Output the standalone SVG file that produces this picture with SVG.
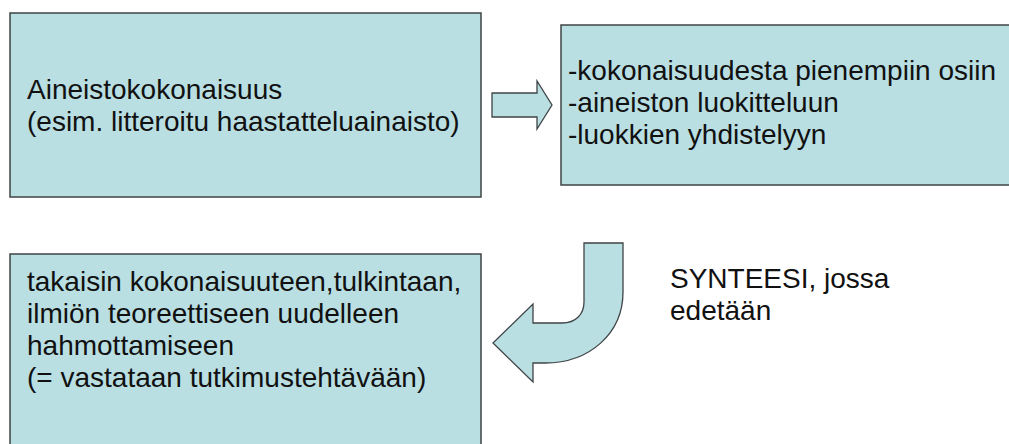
<svg xmlns="http://www.w3.org/2000/svg" width="1009" height="444" viewBox="0 0 1009 444">
<style>
.box{fill:#B9DFE3;stroke:#3F4446;stroke-width:1.5}
.arrow{fill:#B9DFE3;stroke:#3F4446;stroke-width:1.3;stroke-linejoin:miter}
.t{font-family:"Liberation Sans",Arial,sans-serif;font-size:28px;fill:#111}
</style>
<rect width="1009" height="444" fill="#fff"/>
<g id="node-aineisto">
<rect class="box" x="10" y="13" width="471" height="184"/>
<text class="t" x="27" y="99">Aineistokokonaisuus</text>
<text class="t" x="27" y="131">(esim. litteroitu haastatteluainaisto)</text>
</g>
<g id="node-osiin">
<rect class="box" x="561" y="25" width="460" height="160"/>
<text class="t" x="568" y="80">-kokonaisuudesta pienempiin osiin</text>
<text class="t" x="568" y="112">-aineiston luokitteluun</text>
<text class="t" x="568" y="144">-luokkien yhdistelyyn</text>
</g>
<g id="node-takaisin">
<rect class="box" x="10" y="254" width="471" height="200"/>
<text class="t" x="27" y="291">takaisin kokonaisuuteen,tulkintaan,</text>
<text class="t" x="27" y="323">ilmiön teoreettiseen uudelleen</text>
<text class="t" x="27" y="355">hahmottamiseen</text>
<text class="t" x="27" y="387">(= vastataan tutkimustehtävään)</text>
</g>
<g id="connectors">
<path class="arrow" d="M492,93 L537,93 L537,81 L552,105 L537,129 L537,117 L492,117 Z"/>
<path class="arrow" d="M584,243 L623,243 L623,292 C623,333 590,363 545,363 L533,363 L533,382 L493,343 L533,304 L533,323 L562,323 C576,323 584,314 584,302 Z"/>
</g>
<g id="label-synteesi">
<text class="t" x="670" y="288">SYNTEESI, jossa</text>
<text class="t" x="670" y="320">edetään</text>
</g>
</svg>
